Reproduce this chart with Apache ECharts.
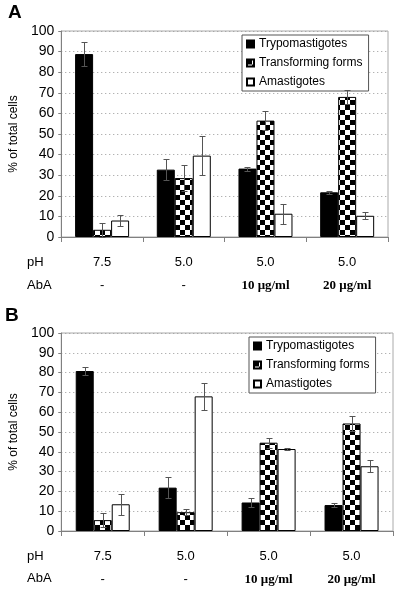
<!DOCTYPE html>
<html><head><meta charset="utf-8">
<script src="https://cdn.jsdelivr.net/npm/echarts@6/dist/echarts.min.js"></script>
<style>html,body{margin:0;padding:0;background:#fff}#c{width:400px;height:590px}</style>
</head><body><div id="c"></div>
<script>
// ---- data ----
const phLabels = ['7.5', '5.0', '5.0', '5.0'];
const abaLabels = ['-', '-', '10 \u03bcg/ml', '20 \u03bcg/ml'];
const seriesNames = ['Trypomastigotes', 'Transforming forms', 'Amastigotes'];
const yTicks = [0, 10, 20, 30, 40, 50, 60, 70, 80, 90, 100];

const trypA = [88.8, 32.7, 33.2, 21.7];
const trypA_sd = [5.8, 5.2, 1.0, 0.8];
const transA = [3.5, 28.6, 56.5, 68];
const transA_sd = [3.3, 6.4, 4.6, 3.5];
const amaA = [8, 39.5, 11.3, 10.3];
const amaA_sd = [2.8, 9.3, 4.9, 1.8];

const trypB = [80.8, 21.9, 14.4, 13.1];
const trypB_sd = [2.0, 5.3, 2.1, 0.9];
const transB = [5.5, 9.5, 44.6, 54.3];
const transB_sd = [3.7, 1.4, 2.5, 3.6];
const amaB = [13.5, 68, 41.4, 32.7];
const amaB_sd = [5.3, 6.8, 0.5, 3.0];

// ---- helpers ----
function makeChecker(s) {
  const cv = document.createElement('canvas');
  cv.width = 2 * s; cv.height = 2 * s;
  const g = cv.getContext('2d');
  g.fillStyle = '#fff'; g.fillRect(0, 0, 2 * s, 2 * s);
  g.fillStyle = '#000'; g.fillRect(0, 0, s, s); g.fillRect(s, s, s, s);
  return { image: cv, repeat: 'repeat' };
}
const checker = makeChecker(5);

const SANS = '"Liberation Sans", Arial, sans-serif';
const SERIF = '"Liberation Serif", "Times New Roman", serif';
const BW = 18;

function errData(vals, sds) {
  return vals.map((v, i) => [i, v - sds[i], v + sds[i]]);
}
function errRender(offset) {
  return function (params, api) {
    const x = api.value(0);
    const lo = api.coord([x, api.value(1)]);
    const hi = api.coord([x, api.value(2)]);
    const cx = Math.round(lo[0] + offset) + 0.5;
    const y1 = Math.round(lo[1]) + 0.5, y2 = Math.round(hi[1]) + 0.5;
    const st = { stroke: '#555', lineWidth: 1 };
    return { type: 'group', children: [
      { type: 'line', shape: { x1: cx, y1: y1, x2: cx, y2: y2 }, style: st },
      { type: 'line', shape: { x1: cx - 3, y1: y2, x2: cx + 3, y2: y2 }, style: st },
      { type: 'line', shape: { x1: cx - 3, y1: y1, x2: cx + 3, y2: y1 }, style: st }
    ]};
  };
}

const barStyles = [
  { color: '#000', borderColor: '#000', borderWidth: 1 },
  { color: checker, borderColor: '#000', borderWidth: 1 },
  { color: '#fff', borderColor: '#000', borderWidth: 1 }
];

function panelSeries(idx, vals, sds) {
  const out = [];
  vals.forEach((v, k) => {
    out.push({
      name: seriesNames[k], type: 'bar', xAxisIndex: idx, yAxisIndex: idx,
      data: v, barWidth: BW, barGap: '0%', itemStyle: barStyles[k], z: 2,
      emphasis: { disabled: true }
    });
  });
  vals.forEach((v, k) => {
    out.push({
      type: 'custom', xAxisIndex: idx, yAxisIndex: idx, z: 5, silent: true,
      renderItem: errRender((k - 1) * BW), data: errData(v, sds[k]),
      encode: { x: 0, y: [1, 2] }
    });
  });
  return out;
}

function xAxis(idx) {
  return {
    type: 'category', gridIndex: idx, data: phLabels,
    axisLine: { lineStyle: { color: '#808080', width: 1 } },
    axisTick: { show: true, alignWithLabel: false, length: 5, lineStyle: { color: '#808080' } },
    axisLabel: {
      margin: 14, interval: 0,
      formatter: function (val, i) {
        return '{p|' + val + '}\n' + (abaLabels[i] === '-' ? '{d|-}' : '{a|' + abaLabels[i] + '}');
      },
      rich: {
        p: { fontFamily: SANS, fontSize: 13, color: '#000', lineHeight: 23 },
        d: { fontFamily: SANS, fontSize: 13, color: '#000', lineHeight: 23 },
        a: { fontFamily: SERIF, fontSize: 13, fontWeight: 'bold', color: '#000', lineHeight: 23 }
      }
    }
  };
}
function yAxis(idx) {
  return {
    type: 'value', gridIndex: idx, min: 0, max: 100, interval: 10,
    name: '% of total cells', nameLocation: 'middle', nameGap: 39,
    nameTextStyle: { fontFamily: SANS, fontSize: 12, color: '#000' },
    axisLine: { show: true, lineStyle: { color: '#808080' } },
    axisTick: { show: true, length: 3, lineStyle: { color: '#808080' } },
    axisLabel: { margin: 7, fontFamily: SANS, fontSize: 14, color: '#000',
      formatter: v => yTicks.indexOf(v) >= 0 ? String(v) : '' },
    splitLine: { show: true, lineStyle: { color: '#999', type: [1, 3], width: 1 } }
  };
}
function legend(idx, left, top) {
  return {
    show: true, orient: 'vertical', left: left, top: top, icon: 'rect',
    data: seriesNames, itemWidth: 7, itemHeight: 7, itemGap: 7,
    padding: [3, 6, 3, 4], borderColor: '#555', borderWidth: 1, backgroundColor: '#fff',
    textStyle: { fontFamily: SANS, fontSize: 12, color: '#000', lineHeight: 12 },
    selectedMode: false
  };
}

const chart = echarts.init(document.getElementById('c'), null, { renderer: 'canvas' });
chart.setOption({
  animation: false,
  backgroundColor: '#fff',
  grid: [
    { left: 57, right: 12, top: 31, height: 206, show: true, borderColor: '#aaa', borderWidth: 1 },
    { left: 55, right: 7, top: 333, height: 198, show: true, borderColor: '#aaa', borderWidth: 1 }
  ],
  xAxis: [xAxis(0), xAxis(1)],
  yAxis: [yAxis(0), yAxis(1)],
  legend: [legend(0, 242, 35), legend(1, 249, 337)],
  graphic: [
    { type: 'text', left: 8, top: 3, style: { text: 'A', font: 'bold 19px ' + SANS, fill: '#000' } },
    { type: 'text', left: 5, top: 306, style: { text: 'B', font: 'bold 19px ' + SANS, fill: '#000' } },
    { type: 'text', left: 27, top: 256, style: { text: 'pH', font: '13px ' + SANS, fill: '#000' } },
    { type: 'text', left: 27, top: 279, style: { text: 'AbA', font: '13px ' + SANS, fill: '#000' } },
    { type: 'text', left: 27, top: 550, style: { text: 'pH', font: '13px ' + SANS, fill: '#000' } },
    { type: 'text', left: 27, top: 572, style: { text: 'AbA', font: '13px ' + SANS, fill: '#000' } }
  ],
  series: [].concat(
    panelSeries(0, [trypA, transA, amaA], [trypA_sd, transA_sd, amaA_sd]),
    panelSeries(1, [trypB, transB, amaB], [trypB_sd, transB_sd, amaB_sd])
  )
});
</script></body></html>
